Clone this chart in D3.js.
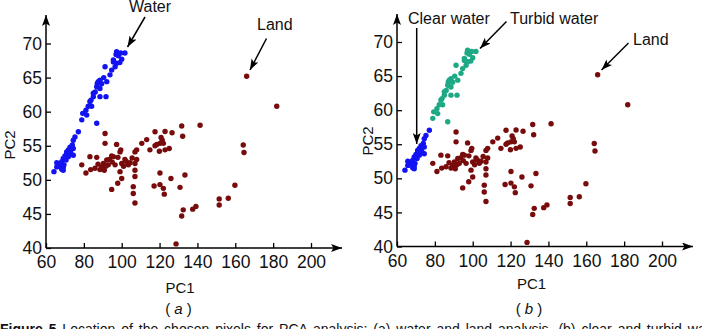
<!DOCTYPE html>
<html><head><meta charset="utf-8">
<script src="https://cdn.jsdelivr.net/npm/d3@7"></script>
<style>body{margin:0;background:#fff;} svg{display:block;}</style>
</head><body>
<svg id="c" width="702" height="329"></svg>
<script>
// ---- data ----
const xTicks = [60, 80, 100, 120, 140, 160, 180, 200];
const yTicks = [40, 45, 50, 55, 60, 65, 70];

const clearWater = [
  [77.1,57.05],[75.3,56.3],[74.4,55.8],[73.9,55.1],[72.7,54.8],[74.4,54.6],[71.8,54.4],[73.0,54.0],
  [70.9,53.8],[70.0,53.5],[69.1,53.15],[70.6,52.9],[68.3,52.65],[67.4,52.2],[69.5,52.2],[65.7,51.9],
  [68.3,51.55],[69.1,51.8],[65.7,52.5],[64.2,51.2],[74.4,53.6],[71.8,53.4],[72.7,53.9],[70.9,54.1],
  [69.1,51.4],[66.6,52.0]
];
const turbidWater = [
  [101.7,68.6],[99.5,68.6],[97.3,68.8],[97.0,68.4],[98.2,68.2],[100.0,67.7],[95.6,67.6],[97.3,67.1],
  [96.5,66.6],[91.2,66.6],[94.7,66.1],[93.8,65.4],[95.6,67.3],[88.5,64.6],[87.6,64.4],[89.4,64.1],
  [92.1,64.4],[86.8,63.65],[88.5,63.4],[87.1,64.15],[85.0,62.7],[85.0,62.2],[88.5,62.2],[91.7,62.2],
  [83.2,61.5],[84.1,60.8],[82.3,60.8],[81.1,60.2],[79.4,59.75],[81.5,59.5],[78.9,58.8],[86.8,58.3],
  [99.0,67.2],[90.5,65.0],[86.0,62.9],[83.8,61.7]
];
const land = [
  [131.7,57.9],[141.4,58.0],[132.2,56.4],[117.6,57.05],[122.9,57.1],[126.6,56.9],[113.2,55.9],[110.6,55.35],
  [120.8,56.2],[122.0,55.35],[121.4,55.8],[118.5,55.2],[117.6,55.0],[114.9,54.4],[119.9,54.2],[122.9,54.4],
  [125.1,54.6],[120.2,55.35],[107.9,54.4],[107.0,54.1],[99.5,54.4],[97.3,55.2],[91.2,56.8],[91.2,55.35],
  [78.9,52.2],[81.1,51.0],[83.2,53.4],[86.8,53.3],[83.6,51.5],[85.9,51.7],[88.5,51.5],[89.4,51.9],
  [90.3,52.4],[92.1,52.9],[92.9,52.2],[90.8,51.4],[95.6,53.4],[96.5,52.2],[100.0,52.4],[101.7,53.0],
  [103.5,52.2],[104.4,52.5],[107.9,53.0],[107.0,52.4],[99.1,54.1],[94.7,53.5],[99.1,51.2],[100.0,50.2],
  [97.9,49.5],[94.7,48.6],[107.0,51.4],[107.0,50.5],[106.1,49.0],[106.1,48.0],[107.0,46.6],
  [91.6,52.0],[93.5,53.0],[98.0,53.3],[101.0,52.0],[102.4,52.7],[105.5,53.2],[87.5,52.3],[95.0,52.6],
  [120.2,51.0],[117.1,49.1],[120.2,49.3],[122.0,48.75],[122.5,47.9],[126.0,50.2],[130.8,48.9],[133.4,50.7],
  [128.7,40.6],[131.7,44.7],[132.5,45.6],[137.5,45.7],[139.2,46.1],[151.5,47.2],[151.5,46.3],[156.3,47.3],
  [159.8,49.2],[164.6,54.0],[164.2,55.1],[166.0,65.2],[181.9,60.8]
];
const panelLetters = ["a", "b"];

// ---- drawing ----
const svg = d3.select("#c");
const defs = svg.append("defs");
defs.append("marker").attr("id","ax").attr("viewBox","0 0 11 8").attr("refX",11).attr("refY",4)
  .attr("markerWidth",11).attr("markerHeight",8).attr("markerUnits","userSpaceOnUse").attr("orient","auto")
  .append("path").attr("d","M0,0 L11,4 L0,8 L2.5,4 Z").attr("fill","#000");
defs.append("marker").attr("id","ar").attr("viewBox","0 0 11 8").attr("refX",11).attr("refY",4)
  .attr("markerWidth",11).attr("markerHeight",8).attr("markerUnits","userSpaceOnUse").attr("orient","auto")
  .append("path").attr("d","M0,0 L11,4 L0,8 L2.5,4 Z").attr("fill","#000");

const TICKFONT = "'Liberation Sans Narrow','Arial Narrow','Liberation Sans',Arial,sans-serif";
const FONT = "'Liberation Sans',Arial,sans-serif";

const COL_LAND = "#780b0b", COL_BLUE = "#1212f2", COL_TURB = "#1ea985";

const panels = [
  {x0:46, x1:311, yb:248, yt:43.5, axTop:15, axRight:342, pc2:[9,145], pc1:[180,293], lab:[178.5,314]},
  {x0:397, x1:662, yb:246.5, yt:42, axTop:14, axRight:693, pc2:[367.5,141], pc1:[531.5,288.5], lab:[529,314]}
];

panels.forEach((p, i) => {
  const g = svg.append("g");
  const x = d3.scaleLinear().domain([60,200]).range([p.x0, p.x1]);
  const y = d3.scaleLinear().domain([40,70]).range([p.yb, p.yt]);

  const ya = g.append("g").attr("transform",`translate(${p.x0},0)`)
    .call(d3.axisLeft(y).tickValues(yTicks).tickSizeInner(-5).tickSizeOuter(0).tickPadding(4).tickFormat(d3.format("d")));
  const xa = g.append("g").attr("transform",`translate(0,${p.yb})`)
    .call(d3.axisBottom(x).tickValues(xTicks).tickSizeInner(-5).tickSizeOuter(0).tickPadding(8).tickFormat(d3.format("d")));
  [ya, xa].forEach(a => {
    a.select(".domain").remove();
    a.selectAll(".tick line").attr("stroke","#000").attr("stroke-width",1.3);
    a.selectAll(".tick text").attr("font-family",TICKFONT).attr("font-size",17.5).attr("fill","#111");
  });

  // axis lines with arrows
  g.append("line").attr("x1",p.x0).attr("y1",p.yb).attr("x2",p.x0).attr("y2",p.axTop)
    .attr("stroke","#000").attr("stroke-width",1.5).attr("marker-end","url(#ax)");
  g.append("line").attr("x1",p.x0).attr("y1",p.yb).attr("x2",p.axRight).attr("y2",p.yb)
    .attr("stroke","#000").attr("stroke-width",1.5).attr("marker-end","url(#ax)");

  // points
  const dot = (data, col) => g.append("g").selectAll("circle").data(data).join("circle")
    .attr("cx", d => x(d[0])).attr("cy", d => y(d[1])).attr("r", 2.7).attr("fill", col);
  dot(land, COL_LAND);
  if (i === 0) {
    dot(clearWater.concat(turbidWater), COL_BLUE);
  } else {
    dot(turbidWater, COL_TURB);
    dot(clearWater, COL_BLUE);
  }

  // axis labels
  g.append("text").attr("transform",`translate(${p.pc2[0]},${p.pc2[1]}) rotate(-90)`)
    .attr("text-anchor","middle").attr("dominant-baseline","central")
    .attr("font-family",FONT).attr("font-size",15).attr("fill","#111").text("PC2");
  g.append("text").attr("x",p.pc1[0]).attr("y",p.pc1[1]).attr("text-anchor","middle")
    .attr("font-family",FONT).attr("font-size",15).attr("fill","#111").text("PC1");
  const t = g.append("text").attr("x",p.lab[0]).attr("y",p.lab[1]).attr("text-anchor","middle")
    .attr("font-family",FONT).attr("font-size",15).attr("fill","#111");
  t.append("tspan").text("( ");
  t.append("tspan").attr("font-style","italic").text(panelLetters[i]);
  t.append("tspan").text(" )");
});

// annotations
function note(txt, tx, ty) {
  svg.append("text").attr("x",tx).attr("y",ty).attr("font-family",FONT).attr("font-size",16)
    .attr("fill","#111").text(txt);
}
function arrow(x1,y1,x2,y2) {
  svg.append("line").attr("x1",x1).attr("y1",y1).attr("x2",x2).attr("y2",y2)
    .attr("stroke","#000").attr("stroke-width",1.5).attr("marker-end","url(#ar)");
}
note("Water", 129, 11.5);
arrow(145, 17, 127.5, 47);
note("Land", 257, 30);
arrow(266.5, 38.5, 250, 70);

note("Clear water", 408, 24);
arrow(416.7, 28, 416.7, 144);
note("Turbid water", 510, 24);
arrow(506.5, 21.5, 480, 48.5);
note("Land", 633, 45);
arrow(628.5, 43, 601.5, 70);

// partially visible caption (cut at the bottom edge, as in the reference)
const cap = svg.append("text").attr("x",0).attr("y",334).attr("font-family",FONT).attr("font-size",14)
  .attr("fill","#111").attr("word-spacing",2);
cap.append("tspan").attr("font-weight","bold").text("Figure 5 ");
cap.append("tspan").text("Location of the chosen pixels for PCA analysis: (a) water and land analysis, (b) clear and turbid water analysis");
</script>
</body></html>
